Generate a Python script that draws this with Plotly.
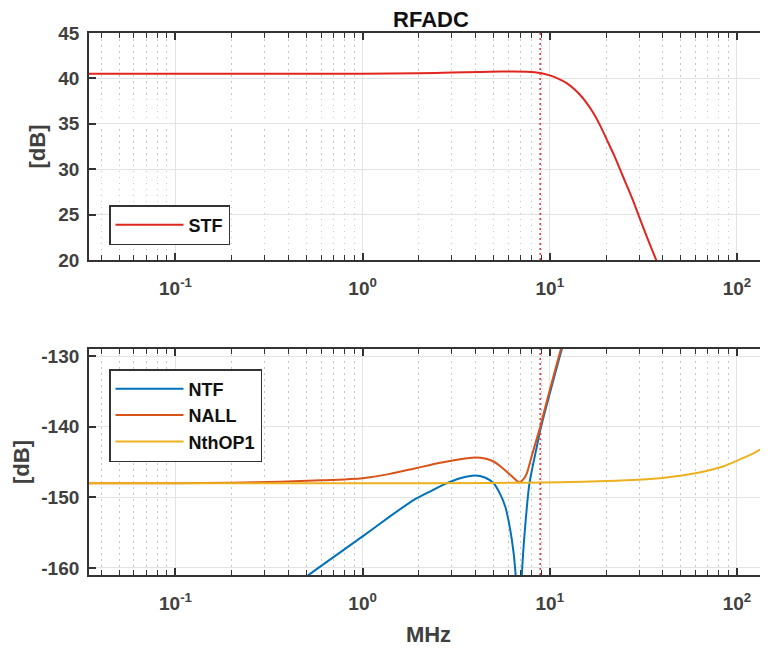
import math
import plotly.graph_objects as go

# ---------------- data ----------------
freq_stf = [0.0345, 0.1, 0.3, 1.0, 2.0, 3.0, 4.25, 5.5, 6.4, 7.5, 8.9, 10.0, 11.0,
            12.3, 13.4, 14.5, 15.8, 17.1, 18.6, 20.2, 22.0, 23.8, 25.8, 28.0,
            30.5, 33.0, 36.2, 40.0]
stf_db = [40.5, 40.5, 40.5, 40.52, 40.58, 40.64, 40.7, 40.75, 40.77, 40.73, 40.59,
          40.33, 40.0, 39.49, 38.9, 38.2, 37.25, 36.18, 34.8, 33.23, 31.6, 29.92,
          28.2, 26.43, 24.4, 22.57, 20.5, 18.4]

freq_ntf = [0.3, 0.526, 1.0, 1.4, 1.87, 2.3, 2.71, 3.32, 4.0, 4.5, 5.01, 5.4, 5.78,
            6.27, 6.56, 6.8, 7.1, 7.39, 7.79, 8.53, 8.89, 10.0, 11.46, 12.5]
ntf_db = [-165.7, -160.8, -155.53, -152.7, -150.4, -149.15, -148.2, -147.3, -146.9,
          -147.2, -148.0, -149.4, -151.3, -156.0, -160.7, -175.0, -160.7, -154.1,
          -148.0, -142.8, -140.5, -135.3, -129.5, -126.0]

freq_nall = [0.0345, 0.1, 0.2, 0.364, 0.6, 1.0, 1.4, 1.87, 2.3, 2.6, 3.32, 4.0, 4.5,
             5.01, 5.5, 6.02, 6.5, 6.87, 7.2, 7.54, 8.0, 8.89, 10.0, 11.46, 12.5]
nall_db = [-148.0, -148.0, -147.95, -147.8, -147.6, -147.29, -146.68, -145.95, -145.42,
           -145.12, -144.6, -144.37, -144.5, -144.93, -145.7, -146.58, -147.4, -147.9,
           -147.5, -146.6, -144.2, -140.0, -134.8, -129.05, -125.4]

freq_nth = [0.0345, 1.0, 5.0, 11.4, 20.0, 29.8, 40.0, 49.7, 60.0, 70.3, 85.0, 99.8,
            120.0, 146.6]
nth_db = [-148.0, -148.0, -147.97, -147.85, -147.7, -147.52, -147.25, -146.96, -146.6,
          -146.2, -145.6, -144.84, -143.9, -142.6]

f_marker = 8.89          # dotted reference frequency [MHz]
x_limits = [0.0345, 146.6]
x_tickvals = [0.1, 1, 10, 100]
x_ticktext = ["10<sup>-1</sup>", "10<sup>0</sup>", "10<sup>1</sup>", "10<sup>2</sup>"]
top_ylim = [20, 45]
bot_ylim = [-161, -129]
top_yticks = [20, 25, 30, 35, 40, 45]
top_yticktext = ["20", "25", "30", "35", "40", "45"]
bot_yticks = [-160, -150, -140, -130]
bot_yticktext = ["-160", "-150", "-140", "-130"]

# ---------------- styling ----------------
FONT = "Liberation Sans, Arial, sans-serif"
AX = "#333333"
TXT = "#404040"
C_STF = "#E0261E"
C_NTF = "#0072BD"
C_NALL = "#D95319"
C_NTH = "#EDB120"
C_MARK = "#F03A3A"

# the page body has a default 8 px margin: lay the figure out in screen pixels
OFF = 8
SW, SH = 768, 649
W, H = SW - OFF, SH - OFF
PL, PR, PT, PB = 89, 768, 33, 575          # plot-area extent in screen px
ML = PL - OFF
MR = W - (PR - OFF)
MT = PT - OFF
MB = H - (PB - OFF)
plot_w = W - ML - MR
plot_h = H - MT - MB
top_dom = [(PB - 260) / plot_h, 1.0]
bot_dom = [0.0, (PB - 349) / plot_h]


def px_to_paper(px, py):
    return (px - PL) / plot_w, (PB - py) / plot_h


fig = go.Figure()
spl = dict(shape="spline", smoothing=0.6)

fig.add_trace(go.Scatter(x=freq_stf, y=stf_db, name="STF", mode="lines",
                         line=dict(color=C_STF, width=2, **spl),
                         xaxis="x", yaxis="y", legend="legend"))
fig.add_trace(go.Scatter(x=[f_marker, f_marker], y=top_ylim, mode="lines",
                         line=dict(color=C_MARK, width=1.6, dash="2px,3px"),
                         showlegend=False, xaxis="x", yaxis="y", hoverinfo="skip"))

fig.add_trace(go.Scatter(x=freq_ntf, y=ntf_db, name="NTF", mode="lines",
                         line=dict(color=C_NTF, width=2, **spl),
                         xaxis="x2", yaxis="y2", legend="legend2"))
fig.add_trace(go.Scatter(x=freq_nall, y=nall_db, name="NALL", mode="lines",
                         line=dict(color=C_NALL, width=2, **spl),
                         xaxis="x2", yaxis="y2", legend="legend2"))
fig.add_trace(go.Scatter(x=freq_nth, y=nth_db, name="NthOP1", mode="lines",
                         line=dict(color=C_NTH, width=2, **spl),
                         xaxis="x2", yaxis="y2", legend="legend2"))
fig.add_trace(go.Scatter(x=[f_marker, f_marker], y=bot_ylim, mode="lines",
                         line=dict(color=C_MARK, width=1.6, dash="2px,3px"),
                         showlegend=False, xaxis="x2", yaxis="y2", hoverinfo="skip"))

tickfont = dict(family=FONT, size=19, color=TXT, weight="bold")
titlefont = dict(family=FONT, size=22, color=TXT, weight="bold")

xcommon = dict(type="log", range=[math.log10(x_limits[0]), math.log10(x_limits[1])],
               tickmode="array", tickvals=x_tickvals, ticktext=x_ticktext,
               showline=True, linecolor=AX, linewidth=1.8, mirror="ticks",
               ticks="inside", ticklen=7, tickwidth=1.8, tickcolor=AX,
               showgrid=True, gridcolor="#E3E3E3", gridwidth=1, zeroline=False,
               tickfont=tickfont, automargin=False, ticklabelstandoff=10,
               minor=dict(ticks="inside", ticklen=5, tickwidth=1.2, tickcolor=AX,
                          showgrid=True, gridcolor="#C8C8C8", griddash="1.5px,4.5px",
                          gridwidth=1, dtick="D1"))
ycommon = dict(showline=True, linecolor=AX, linewidth=1.8, mirror=False,
               ticks="inside", ticklen=7, tickwidth=1.8, tickcolor=AX,
               showgrid=True, gridcolor="#E3E3E3", gridwidth=1, zeroline=False,
               tickfont=tickfont, automargin=False, tickmode="array",
               ticklabelstandoff=4)

lx1, ly1 = px_to_paper(109, 205)
lx2, ly2 = px_to_paper(109, 369)
legend_style = dict(xanchor="left", yanchor="top", bgcolor="white",
                    bordercolor=AX, borderwidth=1.5, itemwidth=68,
                    font=dict(family=FONT, size=18, color="#111111", weight="bold"))

fig.update_layout(
    width=W, height=H, margin=dict(l=ML, r=MR, t=MT, b=MB, autoexpand=False),
    paper_bgcolor="white", plot_bgcolor="white",
    font=dict(family=FONT, color=TXT),
    title=dict(text="RFADC", x=(431 - OFF) / W, xref="container", xanchor="center",
               y=1 - 4 / H, yref="container", yanchor="top", pad=dict(t=0, b=0),
               font=dict(family=FONT, size=22, color="#111111", weight="bold")),
    xaxis=dict(domain=[0, 1], anchor="y", **xcommon),
    yaxis=dict(domain=top_dom, anchor="x", range=top_ylim, tickvals=top_yticks,
               ticktext=top_yticktext,
               title=dict(text="[dB]", font=titlefont, standoff=6), **ycommon),
    xaxis2=dict(domain=[0, 1], anchor="y2",
                title=dict(text="MHz", font=titlefont, standoff=14), **xcommon),
    yaxis2=dict(domain=bot_dom, anchor="x2", range=bot_ylim, tickvals=bot_yticks,
                ticktext=bot_yticktext,
                title=dict(text="[dB]", font=titlefont, standoff=6), **ycommon),
    legend=dict(x=lx1, y=ly1, **legend_style),
    legend2=dict(x=lx2, y=ly2, **legend_style),
    showlegend=True,
)

fig.write_html("out.html")
